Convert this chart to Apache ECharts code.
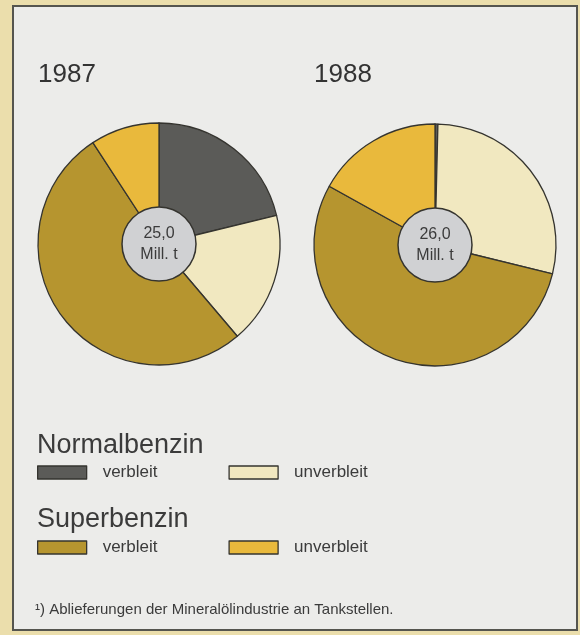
<!DOCTYPE html>
<html>
<head>
<meta charset="utf-8">
<script src="https://cdn.jsdelivr.net/npm/echarts@6/dist/echarts.min.js"></script>
<style>
html,body{margin:0;padding:0;background:#ebdeac;}
#c{width:580px;height:635px;}
</style>
</head>
<body>
<div id="c"></div>
<script>
// Data (Mill. t)
const years = ['1987', '1988'];
const categories = ['Normalbenzin verbleit', 'Normalbenzin unverbleit', 'Superbenzin verbleit', 'Superbenzin unverbleit'];
const values1987 = [5.3, 4.4, 13.0, 2.3];
const values1988 = [0.1, 7.4, 14.1, 4.4];
const totals = [25.0, 26.0];
const groupTitles = ['Normalbenzin', 'Superbenzin'];
const footnote = '¹) Ablieferungen der Mineralölindustrie an Tankstellen.';

const colors = ['#5b5b58', '#f1e8c0', '#b6952f', '#e9b93c'];
const FONT = '"Liberation Sans", Arial, sans-serif';

const chart = echarts.init(document.getElementById('c'), null, {renderer: 'canvas'});

const centers = [[159, 244], [435, 245]];
const allValues = [values1987, values1988];

const series = [];
years.forEach((y, i) => {
  series.push({
    type: 'pie',
    name: y,
    center: centers[i],
    radius: [0, 121],
    startAngle: 90,
    clockwise: true,
    silent: true,
    label: {show: false},
    labelLine: {show: false},
    itemStyle: {borderColor: '#35342f', borderWidth: 1.3},
    data: categories.map((c, k) => ({name: c, value: allValues[i][k], itemStyle: {color: colors[k]}}))
  });
  series.push({
    type: 'pie',
    name: y + ' gesamt',
    center: centers[i],
    radius: [0, 37],
    silent: true,
    z: 5,
    labelLine: {show: false},
    itemStyle: {color: '#d0d1d3', borderColor: '#35342f', borderWidth: 1.5},
    label: {
      show: true, position: 'center',
      formatter: p => p.value.toFixed(1).replace('.', ',') + '\nMill. t',
      fontFamily: FONT, fontSize: 16, lineHeight: 21, color: '#3b3b3b'
    },
    data: [{name: 'gesamt ' + y, value: totals[i]}]
  });
});

const legendCommon = {
  orient: 'horizontal',
  left: 32,
  itemWidth: 49,
  itemHeight: 13,
  itemGap: 71,
  icon: 'rect',
  selectedMode: false,
  formatter: n => n.split(' ')[1],
  textStyle: {fontFamily: FONT, fontSize: 17, color: '#3b3b3b', padding: [0, 0, 0, 11]},
  itemStyle: {borderColor: '#35342f', borderWidth: 1.3}
};

chart.setOption({
  animation: false,
  backgroundColor: 'transparent',
  color: colors,
  graphic: [
    {type: 'rect', z: -10, silent: true,
     shape: {x: 13, y: 6, width: 564, height: 624},
     style: {fill: '#ececea', stroke: '#55554f', lineWidth: 2}},
  ],
  title: [
    {text: years[0], left: 33, top: 57, textStyle: {fontFamily: FONT, fontSize: 26, fontWeight: 'normal', color: '#333'}},
    {text: years[1], left: 309, top: 57, textStyle: {fontFamily: FONT, fontSize: 26, fontWeight: 'normal', color: '#333'}},
    {text: groupTitles[0], left: 32, top: 427, textStyle: {fontFamily: FONT, fontSize: 27, fontWeight: 'normal', color: '#3b3b3b'}},
    {text: groupTitles[1], left: 32, top: 501, textStyle: {fontFamily: FONT, fontSize: 27, fontWeight: 'normal', color: '#3b3b3b'}},
    {text: footnote, left: 30, top: 597, textStyle: {fontFamily: FONT, fontSize: 15, fontWeight: 'normal', color: '#3b3b3b'}}
  ],
  legend: [
    Object.assign({}, legendCommon, {top: 459, data: categories.slice(0, 2)}),
    Object.assign({}, legendCommon, {top: 534, data: categories.slice(2, 4)})
  ],
  series: series
});
</script>
</body>
</html>
